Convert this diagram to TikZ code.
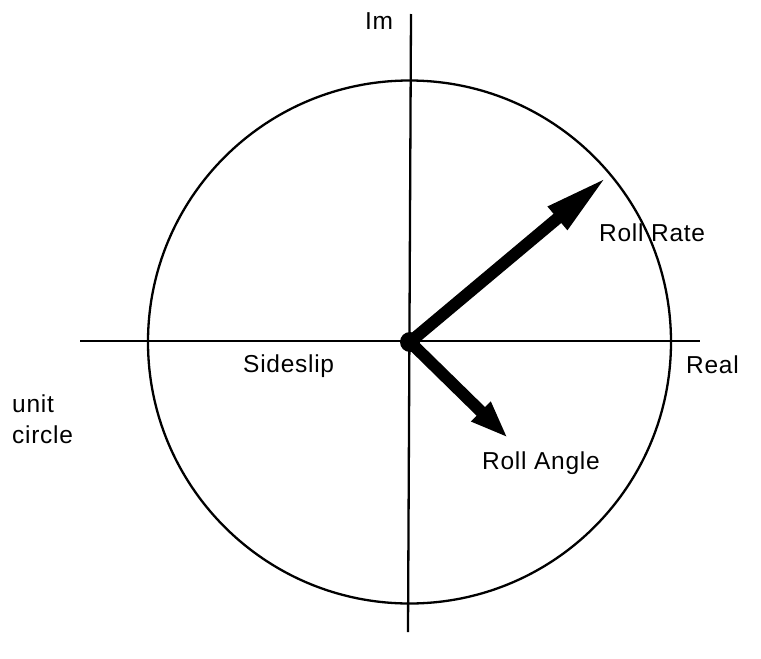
\documentclass[tikz,border=0pt]{standalone}
\usepackage{fontspec}
\setmainfont[LetterSpace=3]{Liberation Sans}
\usetikzlibrary{arrows.meta}
\begin{document}
\begin{tikzpicture}[x=1pt,y=-1pt,
  axis/.style={line width=2.3pt},
  lbl/.style={font=\fontsize{24.5}{28}\selectfont, inner sep=0pt, anchor=base west},
  vec/.style={line width=12pt}]
\useasboundingbox (0,0) rectangle (761,659);
% coordinates
\coordinate (O) at (410,342);
\coordinate (xl) at (80,341);
\coordinate (xr) at (700,341);
\coordinate (yt) at (411,14);
\coordinate (yb) at (408,632);
\coordinate (RR) at (608,176);
\coordinate (RA) at (508,438);
% circle and axes
\draw[axis] (409.5,342) circle[radius=261.5];
\draw[axis] (xl) -- (xr);
\draw[axis] (yt) -- (yb);
% vectors
\draw[vec, -{Triangle[length=66pt,width=27pt]}] (O) -- (RR);
\draw[vec, -{Triangle[length=38pt,width=25pt]}] (O) -- (RA);
\fill (O) circle[radius=10];
% labels
\node[lbl] (im) at (365,29) {Im};
\node[lbl] (rr) at (599,241) {Roll Rate};
\node[lbl] (ss) at (243,372) {Sideslip};
\node[lbl] (ra) at (482,469) {Roll Angle};
\node[lbl] (re) at (686,373) {Real};
\node[lbl] (u1) at (12,412) {unit};
\node[lbl] (u2) at (12,443) {circle};
\end{tikzpicture}
\end{document}
